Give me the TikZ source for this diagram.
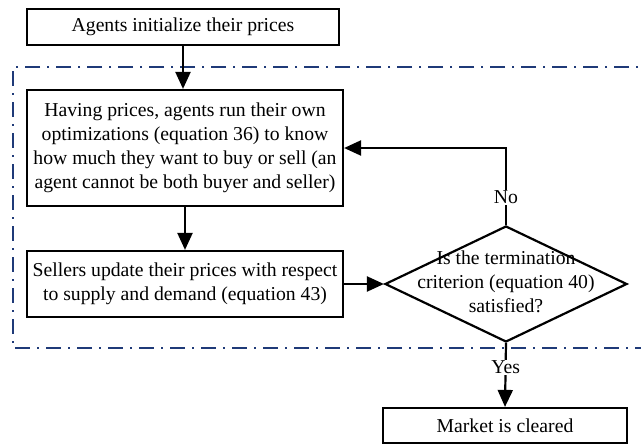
\documentclass[tikz,border=0pt]{standalone}
\usepackage{fontspec}
\setmainfont{Liberation Serif}
\usetikzlibrary{arrows.meta,shapes.geometric}
\definecolor{framecol}{HTML}{1F3A78}
\begin{document}
\begin{tikzpicture}[x=1pt,y=-1pt,
  every node/.style={font=\fontsize{19.7}{24}\selectfont, text=black},
  boxnode/.style={draw=black, line width=2.2pt, rectangle, inner sep=0pt, align=center},
  arr/.style={draw=black, line width=2.2pt, -{Triangle[length=17pt,width=15pt]}},
  framestyle/.style={draw=framecol, line width=1.8pt, dash pattern=on 15pt off 7pt on 2pt off 7pt},
  lbl/.style={fill=white, inner sep=1pt}]
\useasboundingbox (0,0) rectangle (641,445);
\fill[white] (0,0) rectangle (641,445);
% frame
\draw[framestyle] (660,67) -- (13,67) -- (13,348) -- (660,348);
% nodes
\node[boxnode, minimum width=312pt, minimum height=36pt] (b1) at (183,27) {Agents initialize their prices};
\node[boxnode, minimum width=316pt, minimum height=116pt] (b2) at (185,148)
  {Having prices, agents run their own\\optimizations (equation 36) to know\\how much they want to buy or sell (an\\agent cannot be both buyer and seller)};
\node[boxnode, minimum width=316pt, minimum height=66pt] (b3) at (185,284)
  {Sellers update their prices with respect\\to supply and demand (equation 43)};
\node[diamond, draw=black, line width=2.2pt, inner sep=0pt, minimum width=242pt, minimum height=116pt] (dia) at (506,284) {};
\node[align=center, inner sep=0pt] (diatext) at (506,282) {Is the termination\\criterion (equation 40)\\satisfied?};
\node[boxnode, minimum width=244pt, minimum height=35pt] (b4) at (505,425.5) {Market is cleared};
% connectors
\draw[arr] (b1.south) -- (b1.south |- b2.north);
\draw[arr] (b2.south) -- (b3.north);
\draw[arr] (b3.east) -- (dia.west);
\draw[arr] (dia.north) |- node[lbl, pos=0.18] {No} (b2.east);
\draw[arr] (dia.south) -- node[lbl, pos=0.38] {Yes} (b4.north);
\end{tikzpicture}
\end{document}
